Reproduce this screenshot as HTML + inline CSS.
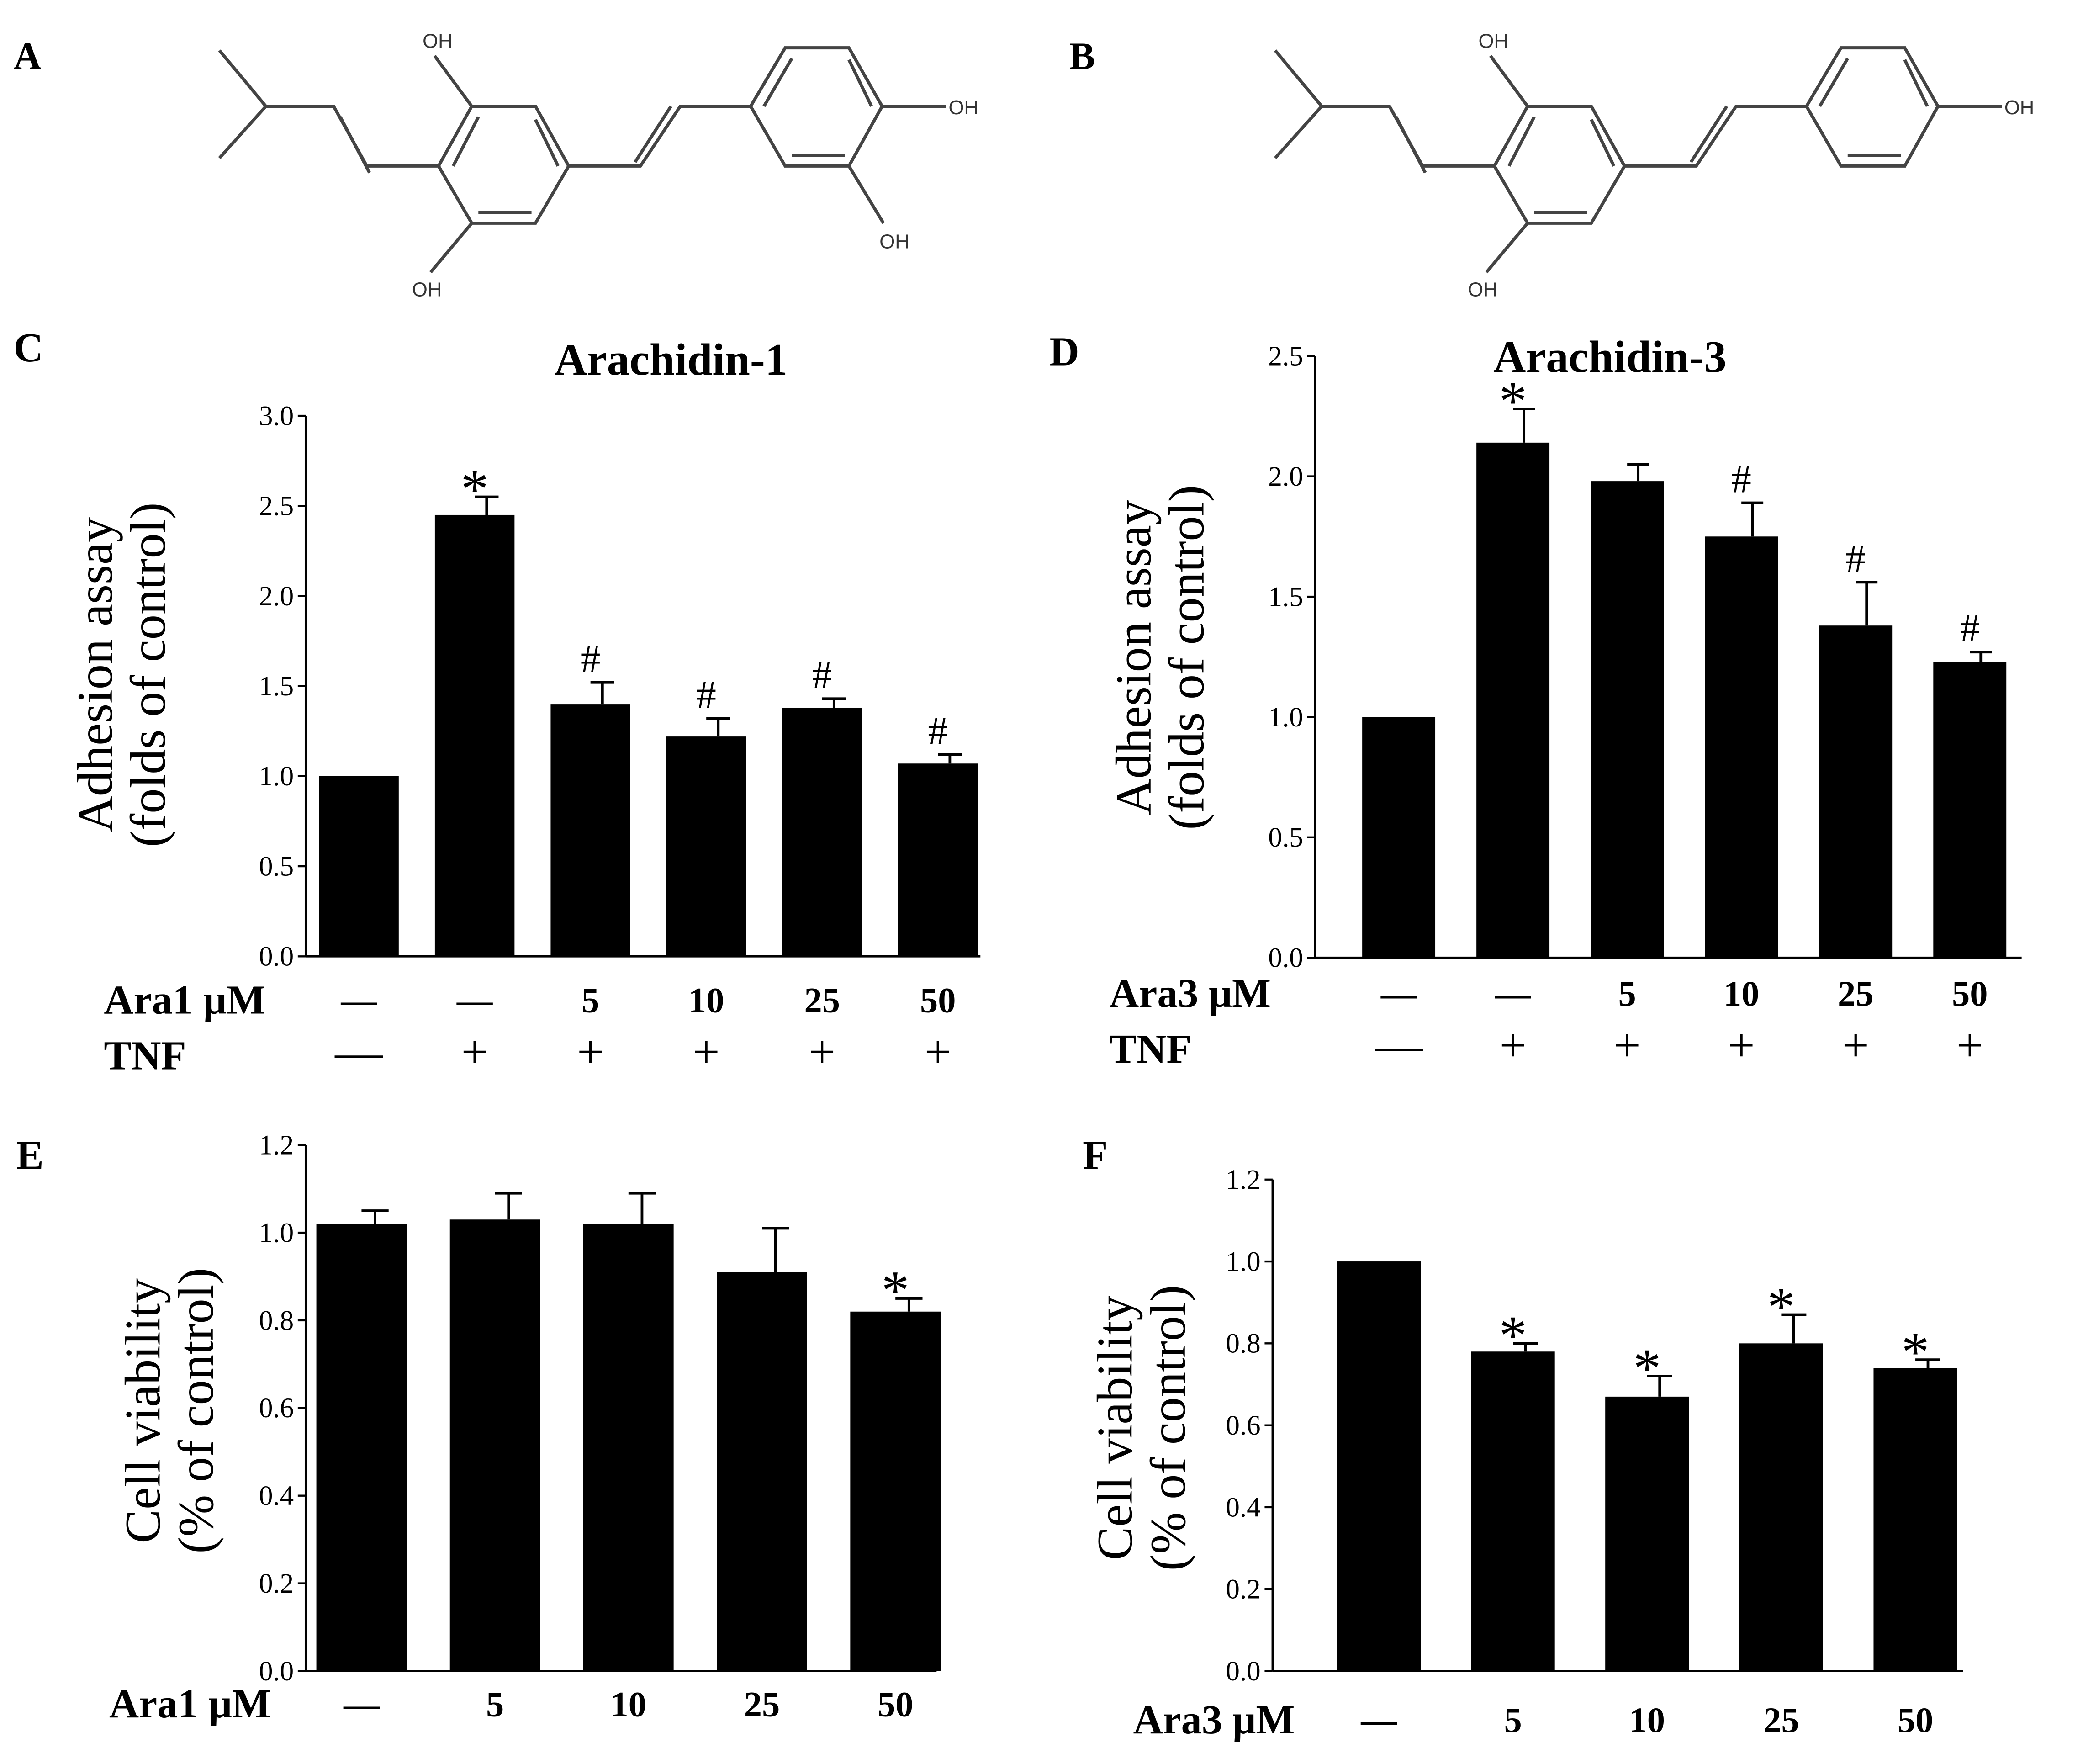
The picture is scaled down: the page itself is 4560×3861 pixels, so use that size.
<!DOCTYPE html>
<html><head><meta charset="utf-8">
<style>
html,body{margin:0;padding:0;background:#fff;}
svg{display:block;}
text{font-family:"Liberation Serif",serif;fill:#000;}
.oh{font-family:"Liberation Sans",sans-serif;font-size:15px;fill:#333;}
.tick{font-size:21px;}
.ttl{font-size:38px;}
.bold{font-weight:bold;}
</style></head>
<body>
<svg id="fig" width="4560" height="3861" viewBox="0 0 1568 1328" xmlns="http://www.w3.org/2000/svg">
<rect width="1568" height="1328" fill="#fff"/>
<g id="mols"></g>
<g id="charts"></g>
</svg>
<script>
// ---------- Chart data ----------
const cValues=[1.0,2.45,1.40,1.22,1.38,1.07];
const cErrors=[0,0.10,0.12,0.10,0.05,0.05];
const cMarks=["","*","#","#","#","#"];
const cAra=["—","—","5","10","25","50"];
const cTnf=["—","+","+","+","+","+"];
const cTicks=[0,0.5,1.0,1.5,2.0,2.5,3.0];

const dValues=[1.0,2.14,1.98,1.75,1.38,1.23];
const dErrors=[0,0.14,0.07,0.14,0.18,0.04];
const dMarks=["","*","","#","#","#"];
const dAra=["—","—","5","10","25","50"];
const dTnf=["—","+","+","+","+","+"];
const dTicks=[0,0.5,1.0,1.5,2.0,2.5];

const eValues=[1.02,1.03,1.02,0.91,0.82];
const eErrors=[0.03,0.06,0.07,0.10,0.03];
const eMarks=["","","","","*"];
const eAra=["—","5","10","25","50"];
const eTicks=[0,0.2,0.4,0.6,0.8,1.0,1.2];

const fValues=[1.0,0.78,0.67,0.80,0.74];
const fErrors=[0,0.02,0.05,0.07,0.02];
const fMarks=["","*","*","*","*"];
const fAra=["—","5","10","25","50"];
const fTicks=[0,0.2,0.4,0.6,0.8,1.0,1.2];

const NS="http://www.w3.org/2000/svg";
function mk(parent,tag,attrs,txt){
  const e=document.createElementNS(NS,tag);
  for(const k in attrs) e.setAttribute(k,attrs[k]);
  if(txt!==undefined) e.textContent=txt;
  parent.appendChild(e);return e;
}
const charts=document.getElementById('charts');

function panel(cfg){
  const g=mk(charts,'g',{});
  
  
  const ymax=cfg.ticks[cfg.ticks.length-1];
  const y=v=>cfg.y0-(v/ymax)*(cfg.y0-cfg.y1);
  const x=i=>cfg.x0+cfg.first+i*cfg.step;
  const ya=mk(g,'line',{x1:cfg.ax,y1:cfg.y1,x2:cfg.ax,y2:cfg.y0,stroke:'#000','stroke-width':1.6});
  
  
  const xa=mk(g,'line',{x1:cfg.ax,y1:cfg.y0,x2:cfg.xend,y2:cfg.y0,stroke:'#000','stroke-width':1.6});
  
  
  cfg.ticks.forEach(t=>{
    mk(g,'line',{x1:cfg.ax-6,y1:y(t),x2:cfg.ax,y2:y(t),stroke:'#000','stroke-width':1.5});
    const tl=mk(g,'text',{x:cfg.ax-9,y:y(t)+7,'text-anchor':'end',class:'tick'},t.toFixed(1));
    
    
  });
  cfg.values.forEach((v,i)=>{
    const cx=x(i);
    const top=v+cfg.errors[i];
    if(cfg.errors[i]>0){
      mk(g,'line',{x1:cx+cfg.bw*0.15,y1:y(v),x2:cx+cfg.bw*0.15,y2:y(top),stroke:'#000','stroke-width':2});
      mk(g,'line',{x1:cx,y1:y(top),x2:cx+cfg.bw*0.3,y2:y(top),stroke:'#000','stroke-width':2});
    }
    const b=mk(g,'rect',{x:cx-cfg.bw/2,y:y(v),width:cfg.bw,height:cfg.y0-y(v),fill:'#000'});
    
    
    if(cfg.marks[i]){
      const star=cfg.marks[i]==='*';
      const m=mk(g,'text',{x:cx,y:y(top)-(star?-8:8),'text-anchor':'middle','font-size':star?42:30},cfg.marks[i]);
      
      
    }
    const a=mk(g,'text',{x:cx,y:cfg.row1+10,'text-anchor':'middle','font-size':27,class:'bold'},cfg.ara[i]);
    
    
    if(cfg.tnf){
      const tt=mk(g,'text',{x:cx,y:cfg.row2+12,'text-anchor':'middle','font-size':36},cfg.tnf[i]);
      
      
    }
  });
  const r1=mk(g,'text',{x:cfg.lblx,y:cfg.row1+11,'font-size':31,class:'bold'},cfg.araName);
  
  
  if(cfg.tnf){
    const r2=mk(g,'text',{x:cfg.lblx,y:cfg.row2+13,'font-size':31,class:'bold'},'TNF');
    
    
  }
  const t=mk(g,'text',{transform:`translate(${cfg.tx},${cfg.ty}) rotate(-90)`,'text-anchor':'middle',class:'ttl'});
  
  
  mk(t,'tspan',{x:0,dy:0},cfg.t1);
  mk(t,'tspan',{x:0,dy:40},cfg.t2);
  if(cfg.title){
    const ti=mk(g,'text',{x:cfg.title[1],y:cfg.title[2],'text-anchor':'middle','font-size':34,class:'bold'},cfg.title[0]);
    
    
  }
  const L=mk(g,'text',{x:cfg.letter[1],y:cfg.letter[2],'font-size':31,class:'bold'},cfg.letter[0]);
  
  
}

panel({name:'panel-c',values:cValues,errors:cErrors,marks:cMarks,ara:cAra,tnf:cTnf,ticks:cTicks,
  ax:230,y0:720,y1:313,x0:0,first:270,step:87.2,bw:60,xend:738,row1:752,row2:792,lblx:78,araName:'Ara1 μM',
  tx:84,ty:508,t1:'Adhesion assay',t2:'(folds of control)',title:['Arachidin-1',505,282],letter:['C',10,272]});
panel({name:'panel-d',values:dValues,errors:dErrors,marks:dMarks,ara:dAra,tnf:dTnf,ticks:dTicks,
  ax:990,y0:721,y1:268,x0:0,first:1053,step:86,bw:55,xend:1522,row1:747,row2:787,lblx:835,araName:'Ara3 μM',
  tx:866,ty:495,t1:'Adhesion assay',t2:'(folds of control)',title:['Arachidin-3',1212,280],letter:['D',790,275]});
panel({name:'panel-e',values:eValues,errors:eErrors,marks:eMarks,ara:eAra,ticks:eTicks,
  ax:230,y0:1258,y1:862,x0:0,first:272,step:100.5,bw:68,xend:705,row1:1282,lblx:82,araName:'Ara1 μM',
  tx:120,ty:1062,t1:'Cell viability',t2:'(% of control)',letter:['E',12,880]});
panel({name:'panel-f',values:fValues,errors:fErrors,marks:fMarks,ara:fAra,ticks:fTicks,
  ax:958,y0:1258,y1:888,x0:0,first:1038,step:101,bw:63,xend:1478,row1:1294,lblx:853,araName:'Ara3 μM',
  tx:852,ty:1075,t1:'Cell viability',t2:'(% of control)',letter:['F',815,880]});

// ---------- Molecules ----------
const mols=document.getElementById('mols');
function mol(dx,catechol,name,letter){
  const g=mk(mols,'g',{transform:`translate(${dx},0)`,stroke:'#444','stroke-width':2.4,fill:'none'});
  
  
  const P=pts=>mk(g,'polyline',{points:pts.map(p=>p.join(',')).join(' ')});
  P([[165,38],[200,80],[165,119]]);
  P([[200,80],[251,80],[276,125],[330,125]]);
  P([[256,88],[278,130]]);
  P([[330,125],[355,80],[403,80],[428,125],[403,168],[355,168],[330,125]]);
  P([[341,125],[360,88]]);P([[403,90],[420,125]]);P([[360,160],[400,160]]);
  P([[355,80],[327,42]]);P([[355,168],[324,205]]);
  P([[428,125],[482,125],[512,80],[565,80]]);P([[478,122],[505,80]]);
  P([[565,80],[591,36],[639,36],[664,80],[639,125],[591,125],[565,80]]);
  P([[575,80],[596,44]]);P([[639,45],[656,80]]);P([[596,117],[636,117]]);
  P([[664,80],[712,80]]);
  const T=(x,y)=>{const t=mk(g,'text',{x:x,y:y,class:'oh',stroke:'none'},'OH');
    };
  T(318,36);T(310,223);T(714,86);
  if(catechol){P([[639,125],[665,168]]);T(662,187);}
  const L=mk(mols,'text',{x:dx+10,y:52,'font-size':29,class:'bold'},letter);
  
  
}
mol(0,true,'arachidin-1-structure','A');
mol(795,false,'arachidin-3-structure','B');
</script>
</body></html>
